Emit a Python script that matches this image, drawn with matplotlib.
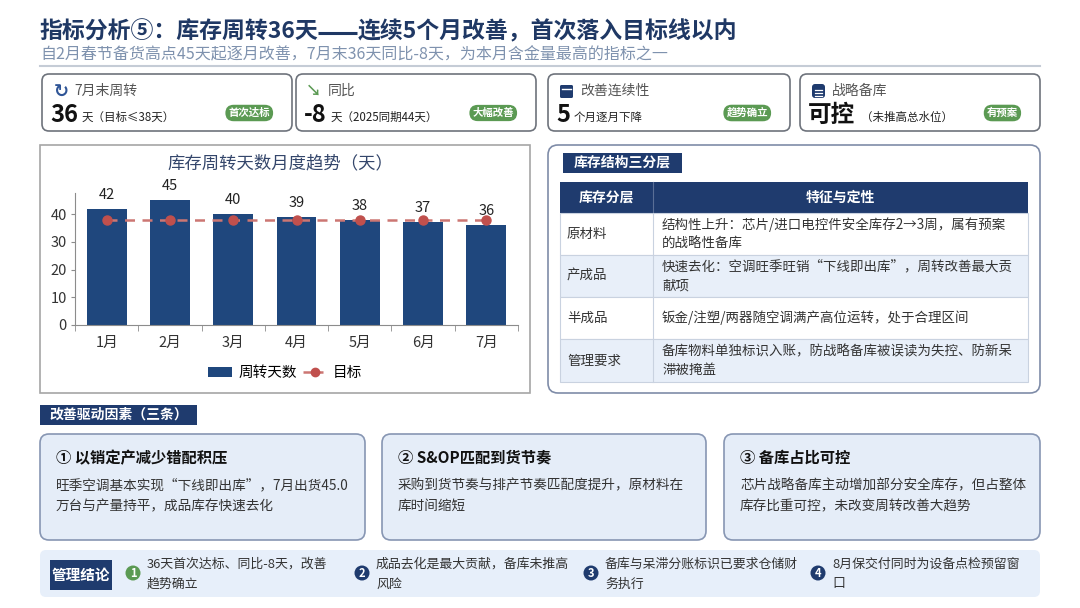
"""
库存周转指标分析页：KPI 卡片 + 月度柱状图 + 库存结构表 + 驱动因素 + 管理结论。
"""

import matplotlib
matplotlib.use("Agg")
import matplotlib.pyplot as plt
from matplotlib.patches import FancyBboxPatch, Rectangle, Circle, Patch
from matplotlib.lines import Line2D

plt.rcParams["font.family"] = ["Noto Sans CJK SC", "DejaVu Sans"]

# ---- 数据 ----
months = ["1月", "2月", "3月", "4月", "5月", "6月", "7月"]
turnover_days = [42, 45, 40, 39, 38, 37, 36]
target_days = [38, 38, 38, 38, 38, 38, 38]

kpi_labels = ["7月末周转", "同比", "改善连续性", "战略备库"]
kpi_values = ["36", "-8", "5", "可控"]
kpi_units = ["天（目标≤38天）", "天（2025同期44天）", "个月逐月下降", "（未推高总水位）"]
kpi_badges = ["首次达标", "大幅改善", "趋势确立", "有预案"]

layers = ["原材料", "产成品", "半成品", "管理要求"]
features = [
    ["结构性上升：芯片/进口电控件安全库存2→3周，属有预案", "的战略性备库"],
    ["快速去化：空调旺季旺销“下线即出库”，周转改善最大贡", "献项"],
    ["钣金/注塑/两器随空调满产高位运转，处于合理区间"],
    ["备库物料单独标识入账，防战略备库被误读为失控、防新呆", "滞被掩盖"],
]

driver_titles = ["① 以销定产减少错配积压", "② S&OP匹配到货节奏", "③ 备库占比可控"]
driver_texts = [
    ["旺季空调基本实现“下线即出库”，7月出货45.0", "万台与产量持平，成品库存快速去化"],
    ["采购到货节奏与排产节奏匹配度提升，原材料在", "库时间缩短"],
    ["芯片战略备库主动增加部分安全库存，但占整体", "库存比重可控，未改变周转改善大趋势"],
]

conclusions = [
    ["36天首次达标、同比-8天，改善", "趋势确立"],
    ["成品去化是最大贡献，备库未推高", "风险"],
    ["备库与呆滞分账标识已要求仓储财", "务执行"],
    ["8月保交付同时为设备点检预留窗", "口"],
]

# ---- 颜色 ----
NAVY = "#1F3B6E"
BAR = "#1F477D"
TARGET = "#C0504D"
GREEN = "#5B9A53"
TITLE = "#1F3864"
LIGHT = "#E5EDF8"


fig = plt.figure(figsize=(10.8, 6.08), dpi=100)
fig.patch.set_facecolor("white")

bg = fig.add_axes([0, 0, 1, 1])
bg.set_xlim(0, 1080)
bg.set_ylim(608, 0)
bg.axis("off")
renderer = fig.canvas.get_renderer()


def rbox(x0, y0, x1, y1, r=6, fc="white", ec="none", lw=1.0):
    """圆角矩形（像素坐标）。"""
    box = FancyBboxPatch((x0, y0), x1 - x0, y1 - y0,
                         boxstyle=f"round,pad=0,rounding_size={r}",
                         fc=fc, ec=ec, lw=lw)
    bg.add_patch(box)
    return box


def txt(x, y, s, size=10, color="#222222", weight="normal", ha="left", va="center"):
    return bg.text(x, y, s, fontsize=size, color=color, fontweight=weight,
                   ha=ha, va=va)


def tag(x0, y0, x1, y1, s, size=10):
    bg.add_patch(Rectangle((x0, y0), x1 - x0, y1 - y0, fc=NAVY, ec="none"))
    txt((x0 + x1) / 2, (y0 + y1) / 2, s, size=size, color="white",
        weight="bold", ha="center")


# ---- 标题 ----
title = txt(40, 32, "指标分析⑤：库存周转36天", size=16.5, color=TITLE, weight="bold")
tx_end = title.get_window_extent(renderer=renderer).x1
# 中文破折号画成一条连续横线
bg.plot([tx_end - 1, tx_end + 38], [32.5, 32.5], color=TITLE, lw=2.2,
        solid_capstyle="butt")
txt(tx_end + 39, 32, "连续5个月改善，首次落入目标线以内",
    size=16.5, color=TITLE, weight="bold")
txt(40, 55, "自2月春节备货高点45天起逐月改善，7月末36天同比-8天，为本月含金量最高的指标之一",
    size=11.5, color="#7F92AE")
bg.plot([40, 1040], [66, 66], color="#C5CCD6", lw=1.5)

# ---- KPI 卡片 ----
cards_x = [(42, 292), (296, 536), (548, 790), (800, 1040)]
for i, (x0, x1) in enumerate(cards_x):
    rbox(x0, 74, x1, 131, r=7, ec="#6E737C", lw=1.2)
    # 图标
    if i == 0:
        txt(x0 + 19, 91, "↻", size=13, color="#2F5597", weight="bold", ha="center")
    elif i == 1:
        txt(x0 + 18, 91, "↘", size=11, color=GREEN, weight="bold", ha="center")
    elif i == 2:
        rbox(x0 + 12, 85, x0 + 25, 98, r=1.5, fc=NAVY)
        bg.plot([x0 + 14, x0 + 23], [88.5, 88.5], color="white", lw=1)
    else:
        rbox(x0 + 12, 84, x0 + 25, 98, r=3, fc=NAVY)
        for yy in (90, 93, 96):
            bg.plot([x0 + 15, x0 + 22], [yy, yy], color="white", lw=0.9)
    txt(x0 + 32, 91, kpi_labels[i], size=10, color="#555555")
    val = txt(x0 + 8, 115, kpi_values[i], size=17, color="#111111", weight="bold")
    ext = val.get_window_extent(renderer=renderer)
    gap = 4 if i < 3 else 6
    txt(ext.x1 + gap, 117, kpi_units[i], size=8.3, color="#222222")
    txt(x1 - 22, 113, kpi_badges[i], size=7.5, color="white", weight="bold",
        ha="right").set_bbox(dict(boxstyle="round,pad=0.3,rounding_size=0.8",
                                  fc=GREEN, ec="none"))

# ---- 柱状图面板 ----
bg.add_patch(Rectangle((40, 145), 490, 248, fc="white", ec="#A6A6A6", lw=1.2))
txt(280, 163, "库存周转天数月度趋势（天）", size=12.5, color="#34466B", ha="center")

ax = fig.add_axes([75 / 1080, (608 - 325) / 608, (518 - 75) / 1080, (325 - 193) / 608])
ax.patch.set_alpha(0)
xs = list(range(len(months)))
bars = ax.bar(xs, turnover_days, width=0.63, color=BAR, zorder=2)
ax.plot(xs, target_days, linestyle="--", dashes=(4, 3), color="#CC7673", lw=1.8,
        marker="o", ms=6.5, mfc=TARGET, mec=TARGET, zorder=3)
ax.bar_label(bars, padding=5, fontsize=10.5, color="#222222")
ax.set_xlim(-0.5, 6.5)
ax.set_ylim(0, 47.6)
ax.set_yticks([0, 10, 20, 30, 40])
ax.set_xticks(xs, months)
ax.set_xticks([i - 0.5 for i in range(len(months) + 1)], minor=True)
ax.tick_params(axis="x", which="major", length=0, pad=8, labelsize=10.5, labelcolor="#333333")
ax.tick_params(axis="x", which="minor", length=4, color="#8C8C8C")
ax.tick_params(axis="y", length=3, pad=3, color="#8C8C8C", labelsize=10.5, labelcolor="#333333")
for side in ("top", "right"):
    ax.spines[side].set_visible(False)
for side in ("left", "bottom"):
    ax.spines[side].set_color("#8C8C8C")

handles = [Patch(fc=BAR, ec="none"),
           Line2D([], [], linestyle="--", dashes=(3, 2), color="#CC7673", lw=1.8,
                  marker="o", ms=6, mfc=TARGET, mec=TARGET)]
ax.legend(handles, ["周转天数", "目标"], loc="center",
          bbox_to_anchor=(285 / 1080, (608 - 373) / 608), bbox_transform=fig.transFigure,
          ncol=2, frameon=False, fontsize=10.5, handlelength=1.7,
          handletextpad=0.4, columnspacing=0.4)

# ---- 库存结构表 ----
rbox(548, 145, 1040, 393, r=10, ec="#7F8CA8", lw=1.2)
tag(563, 153, 682, 173, "库存结构三分层", size=10)

tx0, tsplit, tx1 = 560, 653, 1028
bg.add_patch(Rectangle((tx0, 182), tx1 - tx0, 31, fc=NAVY, ec="none"))
txt((tx0 + tsplit) / 2, 197.5, "库存分层", size=10, color="white", weight="bold", ha="center")
txt((tsplit + tx1) / 2, 197.5, "特征与定性", size=10, color="white", weight="bold", ha="center")
bg.plot([tsplit, tsplit], [182, 213], color="#5A6F96", lw=0.8)

row_edges = [213, 255, 297, 339, 382]
for i, name in enumerate(layers):
    y0, y1 = row_edges[i], row_edges[i + 1]
    fc = "white" if i % 2 == 0 else "#E8EFF9"
    bg.add_patch(Rectangle((tx0, y0), tx1 - tx0, y1 - y0, fc=fc, ec="#C9D2E0", lw=0.8))
    yc = (y0 + y1) / 2
    txt(tx0 + 7, yc, name, size=9.7, color="#333333")
    lines = features[i]
    start = yc - (len(lines) - 1) * 9.5
    for k, line in enumerate(lines):
        txt(tsplit + 9, start + k * 19, line, size=9.7, color="#333333")
bg.plot([tsplit, tsplit], [213, 382], color="#C9D2E0", lw=0.8)

# ---- 改善驱动因素 ----
tag(40, 405, 197, 425, "改善驱动因素（三条）", size=10)
driver_x = [(40, 365), (382, 706), (724, 1040)]
for i, (x0, x1) in enumerate(driver_x):
    rbox(x0, 434, x1, 540, r=9, fc=LIGHT, ec="#8796B3", lw=1.2)
    txt(x0 + 16, 458, driver_titles[i], size=11, color="#111111", weight="bold")
    for k, line in enumerate(driver_texts[i]):
        txt(x0 + 16, 485 + k * 21, line, size=9.8, color="#333333")

# ---- 管理结论 ----
rbox(40, 550, 1040, 597, r=6, fc="#E7EFFA")
tag(50, 560, 112, 590, "管理结论", size=10.5)
circle_x = [133, 362, 591, 818]
for i, cx in enumerate(circle_x):
    color = GREEN if i == 0 else NAVY
    bg.add_patch(Circle((cx, 573), 7.5, fc=color, ec="none"))
    txt(cx, 573.5, str(i + 1), size=8, color="white", weight="bold", ha="center")
    for k, line in enumerate(conclusions[i]):
        txt(cx + 14, 564 + k * 20, line, size=9.3, color="#333333")

fig.savefig("out.png", dpi=100)
plt.close(fig)
